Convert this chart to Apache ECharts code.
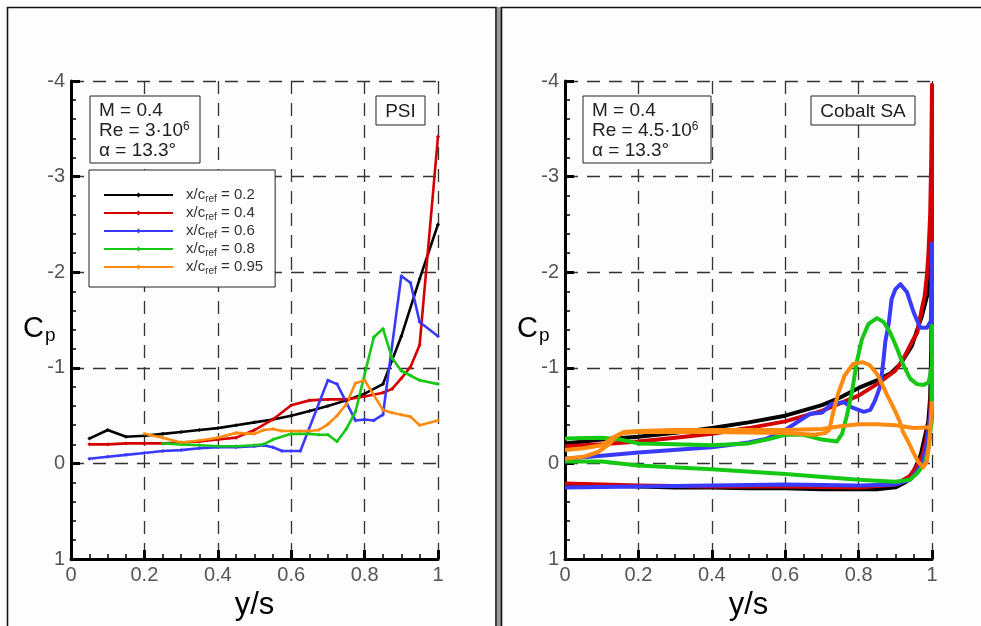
<!DOCTYPE html>
<html>
<head>
<meta charset="utf-8">
<script src="https://cdn.jsdelivr.net/npm/echarts@6/dist/echarts.min.js"></script>
<style>
html,body{margin:0;padding:0;background:#fdfdfd;}
#c{width:981px;height:626px;}
</style>
</head>
<body>
<div id="c"></div>
<script>
// ---------- data ----------
const xTicks = [0, 0.2, 0.4, 0.6, 0.8, 1];
const yTicks = [-4, -3, -2, -1, 0, 1];
const stations = ['0.2', '0.4', '0.6', '0.8', '0.95'];

// PSI measurements (left panel): y/s and Cp per chordwise station
const psiY_02  = [0.05,0.1,0.15,0.2,0.25,0.3,0.35,0.4,0.45,0.5,0.55,0.6,0.65,0.7,0.75,0.8,0.85,0.9,0.95,1.0];
const psiCp_02 = [-0.26,-0.35,-0.28,-0.29,-0.31,-0.33,-0.35,-0.37,-0.40,-0.43,-0.46,-0.50,-0.55,-0.60,-0.66,-0.73,-0.83,-1.33,-1.93,-2.5];

const psiY_04  = [0.05,0.1,0.15,0.2,0.25,0.3,0.35,0.4,0.45,0.5,0.55,0.6,0.65,0.7,0.75,0.8,0.85,0.875,0.9,0.925,0.95,1.0];
const psiCp_04 = [-0.2,-0.2,-0.21,-0.21,-0.21,-0.22,-0.23,-0.25,-0.27,-0.35,-0.46,-0.61,-0.66,-0.67,-0.67,-0.70,-0.74,-0.78,-0.89,-1.01,-1.24,-3.42];

const psiY_06  = [0.05,0.1,0.15,0.2,0.25,0.3,0.35,0.4,0.45,0.5,0.525,0.55,0.575,0.6,0.625,0.7,0.725,0.775,0.8,0.825,0.85,0.9,0.925,0.95,1.0];
const psiCp_06 = [-0.05,-0.07,-0.09,-0.11,-0.13,-0.14,-0.16,-0.17,-0.17,-0.18,-0.19,-0.17,-0.13,-0.13,-0.13,-0.87,-0.83,-0.45,-0.46,-0.45,-0.51,-1.96,-1.89,-1.48,-1.33];

const psiY_08  = [0.25,0.3,0.35,0.4,0.45,0.5,0.525,0.55,0.6,0.65,0.675,0.7,0.725,0.75,0.775,0.825,0.85,0.875,0.9,0.925,0.95,1.0];
const psiCp_08 = [-0.21,-0.2,-0.19,-0.18,-0.18,-0.19,-0.2,-0.25,-0.31,-0.31,-0.30,-0.30,-0.23,-0.36,-0.54,-1.32,-1.41,-1.1,-0.97,-0.92,-0.87,-0.83];

const psiY_095  = [0.2,0.25,0.3,0.35,0.4,0.45,0.5,0.525,0.55,0.575,0.6,0.625,0.65,0.675,0.7,0.725,0.75,0.775,0.8,0.85,0.875,0.9,0.925,0.95,1.0];
const psiCp_095 = [-0.31,-0.27,-0.22,-0.24,-0.27,-0.32,-0.31,-0.35,-0.36,-0.34,-0.34,-0.34,-0.34,-0.35,-0.41,-0.5,-0.62,-0.84,-0.87,-0.56,-0.53,-0.51,-0.49,-0.40,-0.45];

// Cobalt SA computation (right panel): lower surface to tip, then upper surface back to root
const cobY_02  = [0,0.1,0.2,0.3,0.4,0.5,0.6,0.7,0.8,0.85,0.9,0.93,0.95,0.96,0.97,0.98,0.99,0.995,0.998,0.999,0.999,
                  0.997,0.991,0.973,0.945,0.914,0.886,0.85,0.8,0.75,0.7,0.6,0.5,0.4,0.3,0.2,0.1,0];
const cobCp_02 = [0.22,0.23,0.24,0.25,0.25,0.26,0.26,0.27,0.27,0.27,0.25,0.19,0.08,0.0,-0.1,-0.27,-0.44,-0.69,-1.2,-1.9,-2.65,
                  -2.2,-1.82,-1.55,-1.23,-1.04,-0.94,-0.87,-0.79,-0.69,-0.61,-0.5,-0.43,-0.37,-0.32,-0.28,-0.25,-0.21];

const cobY_04  = [0,0.2,0.4,0.6,0.8,0.9,0.94,0.96,0.975,0.985,0.995,1.0,1.0,1.0,
                  0.998,0.995,0.99,0.986,0.98,0.973,0.96,0.945,0.92,0.9,0.85,0.8,0.7,0.6,0.5,0.4,0.3,0.2,0.1,0];
const cobCp_04 = [0.21,0.23,0.24,0.24,0.25,0.22,0.13,0.02,-0.1,-0.27,-0.5,-1.2,-2.5,-3.96,
                  -3.2,-2.6,-2.17,-1.96,-1.75,-1.63,-1.37,-1.27,-1.08,-0.97,-0.83,-0.71,-0.55,-0.44,-0.37,-0.31,-0.27,-0.23,-0.2,-0.18];

const cobY_06  = [0,0.2,0.4,0.6,0.8,0.9,0.94,0.96,0.975,0.985,0.995,1.0,1.0,1.0,
                  0.997,0.986,0.968,0.95,0.932,0.914,0.9,0.89,0.882,0.873,0.868,0.86,0.845,0.832,0.814,0.78,0.76,0.727,0.7,0.668,0.6,0.55,0.5,0.4,0.2,0.1,0];
const cobCp_06 = [0.25,0.24,0.23,0.22,0.23,0.22,0.17,0.08,-0.02,-0.19,-0.48,-0.77,-1.5,-2.3,
                  -1.49,-1.42,-1.42,-1.58,-1.79,-1.875,-1.82,-1.72,-1.46,-1.28,-1.09,-0.82,-0.66,-0.56,-0.54,-0.59,-0.64,-0.625,-0.53,-0.52,-0.35,-0.26,-0.22,-0.17,-0.115,-0.08,-0.05];

const cobY_08  = [0,0.1,0.15,0.2,0.3,0.4,0.5,0.55,0.6,0.65,0.7,0.741,0.755,0.768,0.782,0.795,0.809,0.827,0.85,0.868,0.886,0.905,0.923,0.941,0.959,0.977,0.991,1.0,1.0,
                  1.0,1.0,0.99,0.98,0.96,0.94,0.9,0.8,0.6,0.4,0.2,0.15,0.1,0];
const cobCp_08 = [-0.26,-0.27,-0.25,-0.21,-0.2,-0.19,-0.21,-0.25,-0.3,-0.3,-0.25,-0.23,-0.31,-0.5,-0.75,-1.06,-1.3,-1.46,-1.52,-1.48,-1.37,-1.2,-1.02,-0.885,-0.83,-0.82,-0.85,-1.02,-1.44,
                  -0.8,-0.48,-0.15,0.0,0.1,0.17,0.19,0.17,0.11,0.06,0.02,0.0,-0.02,-0.02];

const cobY_095a  = [0,0.05,0.09,0.12,0.14,0.16,0.2,0.3,0.4,0.5,0.6,0.7,0.75,0.8,0.85,0.9,0.95,1.0];
const cobCp_095a = [-0.05,-0.07,-0.12,-0.2,-0.29,-0.33,-0.34,-0.35,-0.35,-0.35,-0.35,-0.36,-0.39,-0.41,-0.41,-0.4,-0.37,-0.38];
const cobY_095b  = [0,0.05,0.1,0.13,0.16,0.2,0.4,0.6,0.68,0.71,0.72,0.73,0.744,0.762,0.785,0.81,0.83,0.853,0.876,0.898,0.912,0.921,0.935,0.948,0.962,0.976,0.986,0.993,1.0];
const cobCp_095b = [-0.14,-0.16,-0.19,-0.27,-0.32,-0.33,-0.33,-0.32,-0.3,-0.32,-0.35,-0.52,-0.73,-0.92,-1.04,-1.06,-1.03,-0.92,-0.73,-0.56,-0.44,-0.33,-0.23,-0.125,-0.02,0.04,-0.02,-0.23,-0.65];

// ---------- styles ----------
const colors = ['#000000', '#d40000', '#3a3aff', '#14c814', '#ff8a10'];
const FONT = 'Liberation Sans';

function zip(xs, ys) { return xs.map((x, i) => [x, ys[i]]); }
const psiSets = [[psiY_02, psiCp_02], [psiY_04, psiCp_04], [psiY_06, psiCp_06], [psiY_08, psiCp_08], [psiY_095, psiCp_095]];
const cobSets = [[cobY_02, cobCp_02, 0], [cobY_04, cobCp_04, 1], [cobY_06, cobCp_06, 2], [cobY_08, cobCp_08, 3],
                 [cobY_095a, cobCp_095a, 4], [cobY_095b, cobCp_095b, 4]];
const names = stations.map(s => 'x/c_ref = ' + s);

const series = [];
psiSets.forEach((s, i) => {
  series.push({
    name: names[i], type: 'line', xAxisIndex: 0, yAxisIndex: 0,
    data: zip(s[0], s[1]), symbol: 'diamond', symbolSize: 4, showSymbol: true,
    lineStyle: { width: 2.6, color: colors[i] }, itemStyle: { color: colors[i] },
    z: 3
  });
});
cobSets.forEach((s) => {
  series.push({
    name: 'Cobalt ' + stations[s[2]], type: 'line', xAxisIndex: 1, yAxisIndex: 1,
    data: zip(s[0], s[1]), symbol: 'none',
    lineStyle: { width: 4, color: colors[s[2]], join: 'round' }, itemStyle: { color: colors[s[2]] },
    z: 3
  });
});

function xAxisCfg(idx) {
  return {
    type: 'value', gridIndex: idx, min: 0, max: 1, interval: 0.2,
    position: 'bottom',
    name: 'y/s', nameLocation: 'middle', nameGap: 24,
    nameTextStyle: { fontFamily: FONT, fontSize: 31, color: '#000' },
    axisLine: { show: true, onZero: false, lineStyle: { color: '#000', width: 3 } },
    axisTick: { show: true, inside: true, length: 9, lineStyle: { color: '#000', width: 3 } },
    minorTick: { show: true, splitNumber: 4, length: 5, lineStyle: { color: '#000', width: 1.5 } },
    axisLabel: { margin: 6, fontFamily: FONT, fontSize: 20, color: '#555',
                 formatter: v => String(parseFloat(v.toFixed(1))) },
    splitLine: { show: true, lineStyle: { color: '#333', width: 1.3, type: [13, 9] } }
  };
}
function yAxisCfg(idx) {
  return {
    type: 'value', gridIndex: idx, min: -4, max: 1, interval: 1, inverse: true,
    position: 'left',
    axisLine: { show: true, onZero: false, lineStyle: { color: '#000', width: 3 } },
    axisTick: { show: true, inside: true, length: 9, lineStyle: { color: '#000', width: 3 } },
    minorTick: { show: true, splitNumber: 5, length: 5, lineStyle: { color: '#000', width: 1.5 } },
    axisLabel: { margin: 6, fontFamily: FONT, fontSize: 20, color: '#555',
                 formatter: v => String(Math.round(v)) },
    splitLine: { show: true, lineStyle: { color: '#333', width: 1.3, type: [13, 9] } }
  };
}

function infoBox(x, y, w, h, reText) {
  return [
    { type: 'rect', z: 100, shape: { x: x, y: y, width: w, height: h },
      style: { fill: '#fff', stroke: '#222', lineWidth: 1 } },
    { type: 'text', z: 101, x: x + 9, y: y + 5,
      style: {
        text: '{a|M = 0.4}\n{a|' + reText + '}{sup|6}\n{a|α = 13.3°}',
        rich: {
          a: { fontFamily: FONT, fontSize: 19, lineHeight: 20, fill: '#222' },
          sup: { fontFamily: FONT, fontSize: 12, lineHeight: 20, padding: [0, 0, 9, 0], fill: '#222' }
        }
      } }
  ];
}
function labelBox(x, y, w, h, txt) {
  return [
    { type: 'rect', z: 100, shape: { x: x, y: y, width: w, height: h },
      style: { fill: '#fff', stroke: '#222', lineWidth: 1 } },
    { type: 'text', z: 101, x: x + w / 2, y: y + h / 2 + 1,
      style: { text: txt, fontFamily: FONT, fontSize: 19, fill: '#222', align: 'center', verticalAlign: 'middle' } }
  ];
}
function cpLabel(x, y) {
  return {
    type: 'text', x: x, y: y, z: 100,
    style: {
      text: '{c|C}{p|p}',
      rich: {
        c: { fontFamily: FONT, fontSize: 29, fill: '#000' },
        p: { fontFamily: FONT, fontSize: 19, padding: [14, 0, 0, 1], fill: '#000' }
      }
    }
  };
}

const chart = echarts.init(document.getElementById('c'), null, { renderer: 'canvas' });
chart.setOption({
  animation: false,
  backgroundColor: '#fdfdfd',
  grid: [
    { left: 71, top: 81, width: 367, height: 480 },
    { left: 565, top: 81, width: 367, height: 480 }
  ],
  xAxis: [xAxisCfg(0), xAxisCfg(1)],
  yAxis: [yAxisCfg(0), yAxisCfg(1)],
  legend: {
    data: names, orient: 'vertical', left: 89, top: 170,
    itemWidth: 69, itemHeight: 6, itemGap: 0,
    padding: [16, 12, 11, 14],
    backgroundColor: '#fff', borderColor: '#222', borderWidth: 1,
    formatter: n => '{a|x/c}{s|ref}{a| = ' + n.split('= ')[1] + '}',
    textStyle: {
      padding: [0, 0, 0, 8],
      rich: {
        a: { fontFamily: FONT, fontSize: 15, color: '#333', lineHeight: 18 },
        s: { fontFamily: FONT, fontSize: 10, color: '#333', lineHeight: 10, padding: [8, 0, 0, 0] }
      }
    }
  },
  graphic: [
    { type: 'polyline', z: 100, shape: { points: [[7.5, 626], [7.5, 7.5], [496, 7.5], [496, 626]] },
      style: { stroke: '#111', lineWidth: 1.6, fill: null } },
    { type: 'rect', z: 100, shape: { x: 497, y: 7, width: 4, height: 619 }, style: { fill: '#9a9a9a' } },
    { type: 'polyline', z: 100, shape: { points: [[501.5, 626], [501.5, 7.5], [981, 7.5]] },
      style: { stroke: '#111', lineWidth: 1.6, fill: null } },
    ...infoBox(90, 96, 110, 67, 'Re = 3·10'),
    ...labelBox(376, 96, 49, 29, 'PSI'),
    ...infoBox(583, 96, 128, 67, 'Re = 4.5·10'),
    ...labelBox(811, 96, 104, 29, 'Cobalt SA'),
    cpLabel(23, 312),
    cpLabel(517, 312)
  ],
  series: series
});
</script>
</body>
</html>
